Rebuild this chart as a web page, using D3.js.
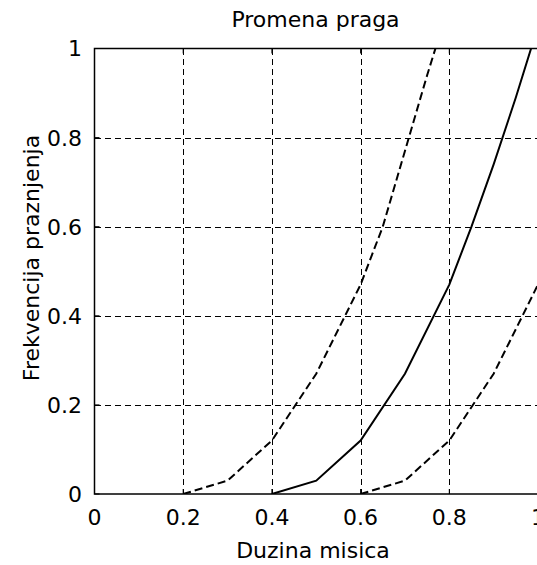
<!DOCTYPE html>
<html lang="en">
<head>
  <meta charset="UTF-8" />
  <title>Promena praga</title>
  <style>
    body { margin: 0; background: #fff; }
    svg { display: block; }
    text { font-family: "DejaVu Sans", sans-serif; fill: #000; }
  </style>
</head>
<body>
  <div id="chart"></div>

  <script src="https://d3js.org/d3.v7.min.js"></script>
  <script>
    // data
    const xTicks = [0, 0.2, 0.4, 0.6, 0.8, 1];
    const yTicks = [0, 0.2, 0.4, 0.6, 0.8, 1];
    const tickLabels = ['0', '0.2', '0.4', '0.6', '0.8', '1'];

    const lowX = [0.2, 0.3, 0.4, 0.5, 0.6, 0.65, 0.7, 0.75, 0.8];
    const lowY = [0, 0.03, 0.12, 0.27, 0.47, 0.6, 0.77, 0.94, 1.1];

    const midX = [0.4, 0.5, 0.6, 0.7, 0.8, 0.85, 0.9, 0.95, 1.0];
    const midY = [0, 0.03, 0.12, 0.27, 0.47, 0.6, 0.74, 0.89, 1.05];

    const highX = [0.6, 0.7, 0.8, 0.9, 1.0];
    const highY = [0, 0.03, 0.12, 0.27, 0.47];

    const width = 537;
    const height = 565;
    const plot = { left: 94.5, right: 538, top: 48.5, bottom: 494 };

    const svg = d3.select('#chart')
      .append('svg')
      .attr('width', width)
      .attr('height', height);

    const x = d3.scaleLinear().domain([0, 1]).range([plot.left, plot.right]);
    const y = d3.scaleLinear().domain([0, 1]).range([plot.bottom, plot.top]);

    svg.append('clipPath').attr('id', 'clip')
      .append('rect')
      .attr('x', plot.left).attr('y', plot.top)
      .attr('width', plot.right - plot.left)
      .attr('height', plot.bottom - plot.top);

    // grid
    const grid = svg.append('g')
      .attr('stroke', '#000')
      .attr('stroke-width', 1)
      .attr('stroke-dasharray', '6 4')
      .attr('shape-rendering', 'crispEdges');

    grid.selectAll('line.vx')
      .data(xTicks.slice(1, -1))
      .enter().append('line')
        .attr('x1', d => Math.round(x(d)) + 0.5)
        .attr('x2', d => Math.round(x(d)) + 0.5)
        .attr('y1', plot.top)
        .attr('y2', plot.bottom);

    grid.selectAll('line.hy')
      .data(yTicks.slice(1, -1))
      .enter().append('line')
        .attr('y1', d => Math.round(y(d)) + 0.5)
        .attr('y2', d => Math.round(y(d)) + 0.5)
        .attr('x1', plot.left)
        .attr('x2', plot.right);

    // curves
    const line = d3.line()
      .x(d => x(d[0]))
      .y(d => y(d[1]));

    const curves = svg.append('g').attr('clip-path', 'url(#clip)');

    const series = [
      { xs: lowX, ys: lowY, dash: '8 4' },
      { xs: midX, ys: midY, dash: null },
      { xs: highX, ys: highY, dash: '8 4' }
    ];

    series.forEach(s => {
      curves.append('path')
        .datum(s.xs.map((v, i) => [v, s.ys[i]]))
        .attr('d', line)
        .attr('fill', 'none')
        .attr('stroke', '#000')
        .attr('stroke-width', 2)
        .attr('stroke-dasharray', s.dash);
    });

    // axes box
    svg.append('rect')
      .attr('x', plot.left)
      .attr('y', plot.top)
      .attr('width', plot.right - plot.left)
      .attr('height', plot.bottom - plot.top)
      .attr('fill', 'none')
      .attr('stroke', '#000')
      .attr('stroke-width', 1.5);

    // inward tick marks
    const ticks = svg.append('g').attr('stroke', '#000').attr('stroke-width', 1);
    xTicks.forEach(d => {
      ticks.append('line')
        .attr('x1', x(d)).attr('x2', x(d))
        .attr('y1', plot.bottom).attr('y2', plot.bottom - 5);
      ticks.append('line')
        .attr('x1', x(d)).attr('x2', x(d))
        .attr('y1', plot.top).attr('y2', plot.top + 5);
    });
    yTicks.forEach(d => {
      ticks.append('line')
        .attr('x1', plot.left).attr('x2', plot.left + 5)
        .attr('y1', y(d)).attr('y2', y(d));
    });

    // tick labels
    svg.append('g').selectAll('text')
      .data(xTicks)
      .enter().append('text')
        .attr('x', d => x(d))
        .attr('y', 525)
        .attr('text-anchor', 'middle')
        .attr('font-size', 22)
        .text((d, i) => tickLabels[i]);

    svg.append('g').selectAll('text')
      .data(yTicks)
      .enter().append('text')
        .attr('x', 82)
        .attr('y', d => y(d))
        .attr('dy', '0.36em')
        .attr('text-anchor', 'end')
        .attr('font-size', 22)
        .text((d, i) => tickLabels[i]);

    // titles
    svg.append('text')
      .attr('x', 315.5)
      .attr('y', 27)
      .attr('text-anchor', 'middle')
      .attr('font-size', 22)
      .text('Promena praga');

    svg.append('text')
      .attr('x', 313)
      .attr('y', 558)
      .attr('text-anchor', 'middle')
      .attr('font-size', 22)
      .text('Duzina misica');

    svg.append('text')
      .attr('transform', 'translate(39,258) rotate(-90)')
      .attr('text-anchor', 'middle')
      .attr('font-size', 22)
      .text('Frekvencija praznjenja');
  </script>
</body>
</html>
